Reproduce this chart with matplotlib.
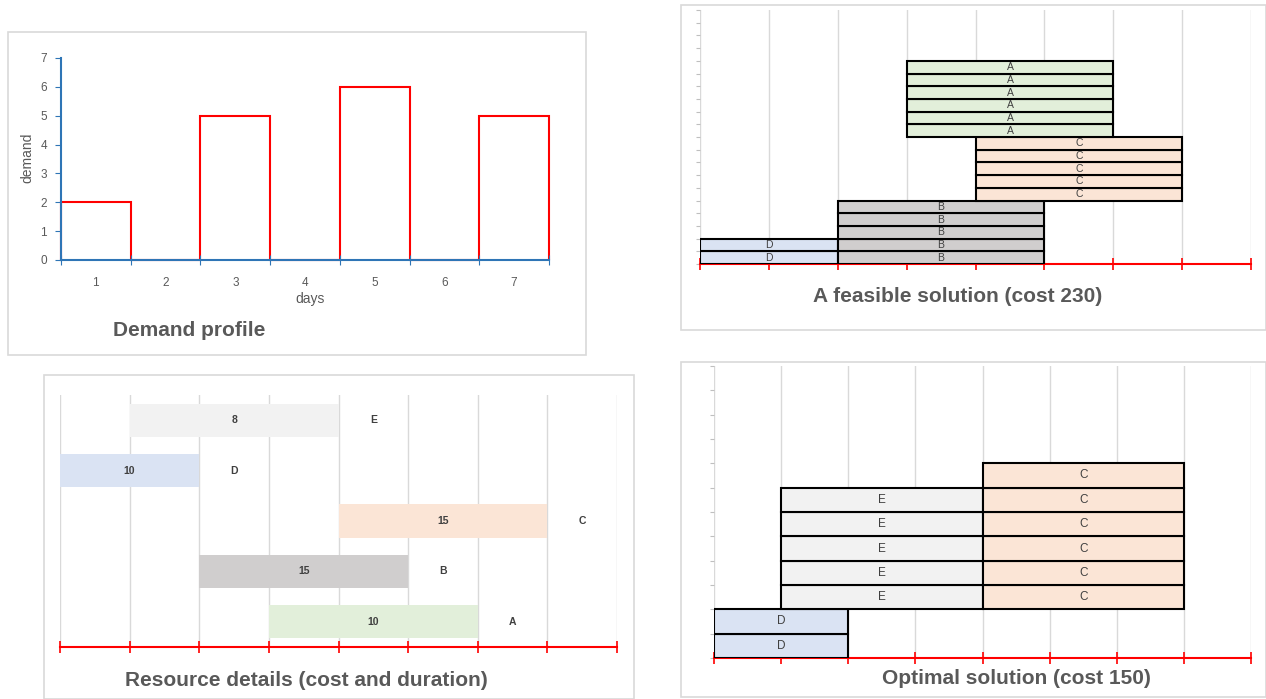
import matplotlib.pyplot as plt
from matplotlib.patches import Rectangle

# demand per day
days = [1, 2, 3, 4, 5, 6, 7]
demand = [2, 0, 5, 0, 6, 0, 5]

# resources: start day offset, duration (days) and cost
resources = ['A', 'B', 'C', 'D', 'E']
res_start = [3, 2, 4, 0, 1]
res_dur = [3, 3, 3, 2, 3]
res_cost = [10, 15, 15, 10, 8]
res_color = ['#E2EFDA', '#D0CECE', '#FBE5D6', '#DAE3F3', '#F2F2F2']

# solutions: how many units of each resource, and where the stack starts
feasible_count = {'D': 2, 'B': 5, 'C': 5, 'A': 6}
feasible_base = {'D': 0, 'B': 0, 'C': 5, 'A': 10}
optimal_count = {'D': 2, 'E': 5, 'C': 6}
optimal_base = {'D': 0, 'E': 2, 'C': 2}

W, H = 1266, 699
fig = plt.figure(figsize=(W / 100, H / 100), dpi=100)
plt.rcParams['font.family'] = ['Liberation Sans', 'DejaVu Sans']

GREY = '#595959'
GRID = '#D9D9D9'
TITLE_FS = 15


def px_axes(x0, y0, x1, y1):
    return fig.add_axes([x0 / W, 1 - y1 / H, (x1 - x0) / W, (y1 - y0) / H])


def frame(x0, y0, x1, y1):
    fig.patches.append(Rectangle((x0 / W, 1 - y1 / H), (x1 - x0) / W, (y1 - y0) / H,
                                 transform=fig.transFigure, fill=False,
                                 edgecolor=GRID, lw=1.2))


def ftext(x, y, s, **kw):
    fig.text(x / W, 1 - y / H, s, ha='center', va='center', **kw)


def red_axis(ax):
    for side in ['top', 'right', 'left']:
        ax.spines[side].set_visible(False)
    ax.spines['bottom'].set_color('#FF0000')
    ax.spines['bottom'].set_linewidth(1.5)
    ax.set_xlim(0, 8)
    ax.set_xticks(range(9))
    ax.tick_params(axis='x', colors='#FF0000', direction='inout', length=8,
                   width=1.2, labelbottom=False)
    ax.grid(axis='x', color=GRID, lw=1)
    ax.set_axisbelow(True)


def draw_solution(ax, counts, base, fs):
    for r, n in counts.items():
        i = resources.index(r)
        rows = [base[r] + k for k in range(n)]
        ax.bar([res_start[i]] * n, [1] * n, width=res_dur[i], bottom=rows,
               align='edge', color=res_color[i], edgecolor='black', lw=1.5, zorder=3)
        for row in rows:
            ax.text(res_start[i] + res_dur[i] / 2, row + 0.5, r, ha='center',
                    va='center', fontsize=fs, color='#404040', zorder=4)


# ---- demand profile ----
frame(8, 32, 586, 355)
ax1 = px_axes(61, 58, 549, 260)
edges = [d - 0.5 for d in days] + [days[-1] + 0.5]
ax1.stairs(demand, edges, baseline=0, color='#FF0000', lw=1.5, clip_on=False)
ax1.set_xlim(0.5, 7.5)
ax1.set_ylim(0, 7)
for side in ['top', 'right']:
    ax1.spines[side].set_visible(False)
for side in ['left', 'bottom']:
    ax1.spines[side].set_color('#2E75B6')
    ax1.spines[side].set_linewidth(1.5)
ax1.set_xticks(edges)
ax1.set_xticklabels([])
ax1.set_xticks(days, minor=True)
ax1.set_xticklabels([str(d) for d in days], minor=True)
ax1.tick_params(axis='x', which='major', direction='inout', length=7, color='#2E75B6')
ax1.tick_params(axis='x', which='minor', length=0, pad=12, labelsize=8.5, labelcolor=GREY)
ax1.set_yticks(range(8))
ax1.tick_params(axis='y', length=4, color='#2E75B6', labelsize=8.5, labelcolor=GREY, pad=6)
ftext(310, 299, 'days', fontsize=10, color=GREY)
ftext(27, 158, 'demand', fontsize=10, color=GREY, rotation=90)
ftext(189, 330, 'Demand profile', fontsize=TITLE_FS, color=GREY, fontweight='bold')

# ---- a feasible solution ----
frame(681, 5, 1266, 330)
ax2 = px_axes(700, 10, 1251, 264)
red_axis(ax2)
ax2.set_ylim(0, 20)
ax2.set_yticks(range(21))
ax2.tick_params(axis='y', length=3, color='#BFBFBF', labelleft=False)
draw_solution(ax2, feasible_count, feasible_base, 7.5)
ftext(958, 296, 'A feasible solution (cost 230)', fontsize=TITLE_FS, color=GREY,
      fontweight='bold')

# ---- resource details ----
frame(44, 375, 634, 699)
ax3 = px_axes(60, 395, 617, 647)
red_axis(ax3)
ax3.set_ylim(-0.5, 4.5)
ax3.set_yticks([])
ax3.barh(range(len(resources)), res_dur, left=res_start, height=0.66,
         color=res_color, zorder=3)
for i, r in enumerate(resources):
    ax3.text(res_start[i] + res_dur[i] / 2, i, str(res_cost[i]), ha='center',
             va='center', fontsize=7.5, fontweight='bold', color='#404040', zorder=4)
    ax3.text(res_start[i] + res_dur[i] + 0.5, i, r, ha='center', va='center',
             fontsize=7.5, fontweight='bold', color='#404040', zorder=4)
ftext(306, 681, 'Resource details (cost and duration)', fontsize=TITLE_FS, color=GREY,
      fontweight='bold')

# ---- optimal solution ----
frame(681, 362, 1266, 697)
ax4 = px_axes(714, 366, 1251, 658)
red_axis(ax4)
ax4.set_ylim(0, 12)
ax4.set_yticks(range(13))
ax4.tick_params(axis='y', length=3, color='#BFBFBF', labelleft=False)
draw_solution(ax4, optimal_count, optimal_base, 8.5)
ftext(1016, 679, 'Optimal solution (cost 150)', fontsize=TITLE_FS, color=GREY,
      fontweight='bold')

fig.savefig('out.png', dpi=100)
